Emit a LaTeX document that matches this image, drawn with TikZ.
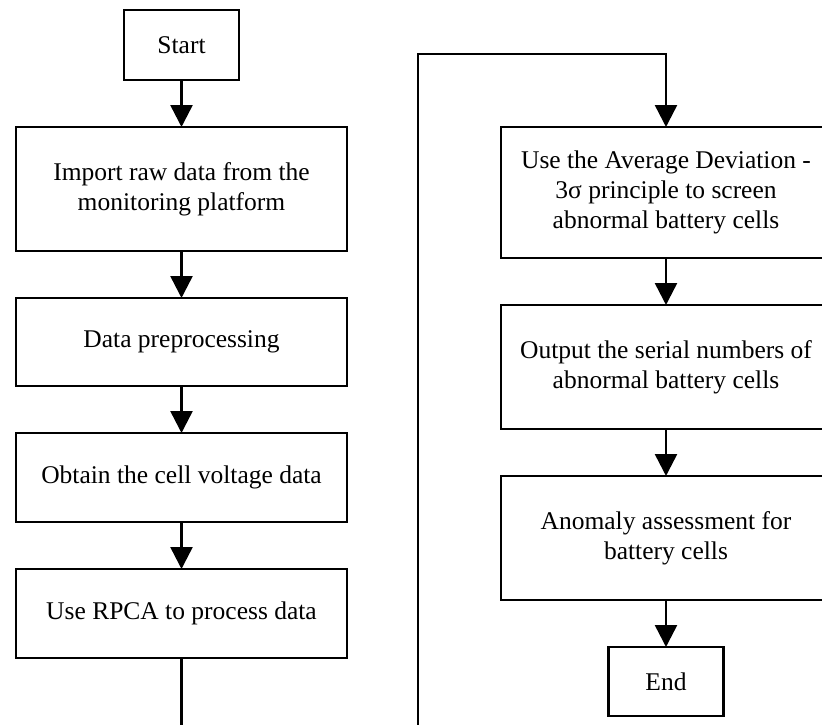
\documentclass[tikz,border=0pt]{standalone}
\usepackage{fontspec}
\setmainfont{Liberation Serif}
\usetikzlibrary{arrows.meta,positioning}

\begin{document}
\begin{tikzpicture}[x=1pt, y=-1pt, ->, >={Triangle[length=22pt,width=22pt]}, line width=2.5pt, node distance=47pt]
\tikzstyle{every node}=[font=\fontsize{25.5}{30}\selectfont, outer sep=0pt]
\tikzstyle{proc}=[draw, rectangle, align=center, minimum width=331pt, inner sep=4pt]
\tikzstyle{term}=[draw, rectangle, align=center, minimum width=115pt, minimum height=70pt]
\useasboundingbox (0,0) rectangle (822,725);
\clip (0,0) rectangle (822,725);

% left column
\node[term]    (start)  at (181.5,45)     {Start};
\node[proc, minimum height=124pt] (import) [below=of start]  {Import raw data from the\\monitoring platform};
\node[proc, minimum height=88pt]  (prep)   [below=of import] {Data preprocessing};
\node[proc, minimum height=89pt]  (volt)   [below=of prep]   {Obtain the cell voltage data};
\node[proc, minimum height=89pt]  (rpca)   [below=of volt]   {Use RPCA to process data};

% right column
\node[proc, minimum height=131pt, minimum width=330pt] (avg) at (666,192.5) {Use the Average Deviation -\\3σ principle to screen\\abnormal battery cells};
\node[proc, minimum height=124pt, minimum width=330pt] (out)  [below=of avg]  {Output the serial numbers of\\abnormal battery cells};
\node[proc, minimum height=124pt, minimum width=330pt] (assess) [below=of out] {Anomaly assessment for\\battery cells};
\node[term, minimum height=69pt] (end) [below=of assess] {End};

\coordinate (top) at (418,54);

\path
(start)  edge (import)
(import) edge (prep)
(prep)   edge (volt)
(volt)   edge (rpca)
(avg)    edge (out)
(out)    edge (assess)
(assess) edge (end);

\draw (rpca.south) -- ++(0,90) -| (top) -| (avg.north);
\end{tikzpicture}
\end{document}
